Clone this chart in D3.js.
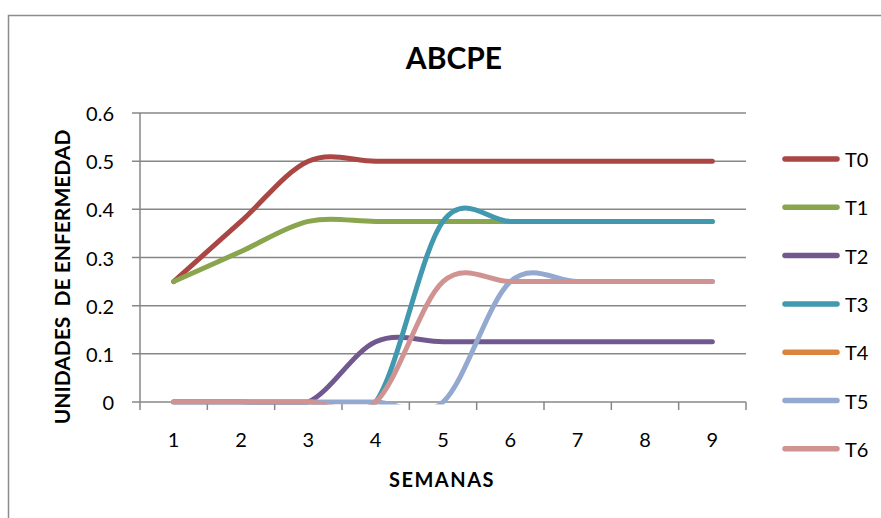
<!DOCTYPE html>
<html><head><meta charset="utf-8">
<script src="https://cdn.jsdelivr.net/npm/d3@7"></script>
<style>body{margin:0;background:#fff}svg{display:block}</style>
</head><body>
<svg id="c" width="881" height="518"></svg>
<script>
const weeks = [1,2,3,4,5,6,7,8,9];
const T0 = [0.25,0.375,0.5,0.5,0.5,0.5,0.5,0.5,0.5];
const T1 = [0.25,0.3125,0.375,0.375,0.375,0.375,0.375,0.375,0.375];
const T2 = [0,0,0,0.125,0.125,0.125,0.125,0.125,0.125];
const T3 = [0,0,0,0,0.375,0.375,0.375,0.375,0.375];
const T4 = [null,null,null,null,null,null,null,null,null];
const T5 = [0,0,0,0,0,0.25,0.25,0.25,0.25];
const T6 = [0,0,0,0,0.25,0.25,0.25,0.25,0.25];
const seriesNames = ["T0","T1","T2","T3","T4","T5","T6"];
const seriesValues = [T0,T1,T2,T3,T4,T5,T6];
const colors = ["#AA4643","#89A54E","#71588F","#4198AF","#DB843D","#93A9CF","#D19392"];
const yTicks = [0,0.1,0.2,0.3,0.4,0.5,0.6];

const svg = d3.select("#c");
const font = "Lato, 'Open Sans', sans-serif";
svg.append("rect").attr("x",8.5).attr("y",15.5).attr("width",900).attr("height",600)
  .attr("fill","#fff").attr("stroke","#8c8c8c").attr("stroke-width",1.5);

const x = d3.scaleLinear().domain([0.5,9.5]).range([140,746]);
const y = d3.scaleLinear().domain([0,0.6]).range([402,113]);
const grid = "#878787";

svg.append("defs").append("clipPath").attr("id","plot").append("rect")
  .attr("x",x(0.5)).attr("y",y(0.6)-3).attr("width",x(9.5)-x(0.5)).attr("height",y(0)-y(0.6)+5.5);

// gridlines
svg.append("g").selectAll("line").data(yTicks).join("line")
  .attr("x1",132).attr("x2",746).attr("y1",d=>y(d)).attr("y2",d=>y(d))
  .attr("stroke",grid).attr("stroke-width",1.5);
// y axis line
svg.append("line").attr("x1",140).attr("x2",140).attr("y1",y(0.6)).attr("y2",y(0))
  .attr("stroke",grid).attr("stroke-width",1.5);
// x tick marks
svg.append("g").selectAll("line").data(d3.range(0.5,10,1)).join("line")
  .attr("x1",d=>x(d)).attr("x2",d=>x(d)).attr("y1",402).attr("y2",410)
  .attr("stroke",grid).attr("stroke-width",1.5);
// y tick labels
svg.append("g").selectAll("text").data(yTicks).join("text")
  .attr("x",114).attr("y",d=>y(d)+8).attr("text-anchor","end")
  .attr("font-family",font).attr("font-size",20).attr("fill","#000")
  .text(d=>d===0?"0":d.toFixed(1));
// x tick labels
svg.append("g").selectAll("text").data(weeks).join("text")
  .attr("x",d=>x(d)).attr("y",447).attr("text-anchor","middle")
  .attr("font-family",font).attr("font-size",20).attr("fill","#000")
  .text(d=>d);

const line = d3.line().defined(d=>d!=null).x((d,i)=>x(weeks[i])).y(d=>y(d)).curve(d3.curveCardinal.tension(0));
svg.append("g").attr("clip-path","url(#plot)").selectAll("path").data(seriesValues).join("path")
  .attr("d",d=>line(d)||"").attr("fill","none")
  .attr("stroke",(d,i)=>colors[i]).attr("stroke-width",5)
  .attr("stroke-linecap","round").attr("stroke-linejoin","round");

// legend
const lg = svg.append("g").selectAll("g").data(seriesNames).join("g")
  .attr("transform",(d,i)=>`translate(0,${159+i*48.3})`);
lg.append("line").attr("x1",785).attr("x2",837).attr("y1",0).attr("y2",0)
  .attr("stroke",(d,i)=>colors[i]).attr("stroke-width",5.5).attr("stroke-linecap","round");
lg.append("text").attr("x",845).attr("y",8).attr("font-family",font).attr("font-size",20)
  .attr("fill","#000").text(d=>d);

// titles
svg.append("text").attr("x",454).attr("y",69).attr("text-anchor","middle")
  .attr("font-family",font).attr("font-weight","bold").attr("font-size",30).text("ABCPE");
svg.append("text").attr("x",442).attr("y",487).attr("text-anchor","middle")
  .attr("font-family",font).attr("font-weight","bold").attr("font-size",20)
  .attr("letter-spacing",1.5).text("SEMANAS");
svg.append("text").attr("transform","translate(70,277) rotate(-90)").attr("text-anchor","middle")
  .attr("font-family",font).attr("font-weight","bold").attr("font-size",21)
  .style("white-space","pre").text("UNIDADES  DE ENFERMEDAD");
</script>
</body></html>
